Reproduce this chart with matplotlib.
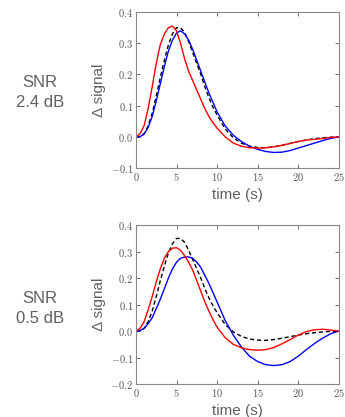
import numpy as np
import matplotlib
matplotlib.use("Agg")
import matplotlib.pyplot as plt
from matplotlib.ticker import FuncFormatter, MultipleLocator

plt.rcParams['mathtext.fontset'] = 'cm'
plt.rcParams['font.family'] = ['Liberation Sans', 'DejaVu Sans']

# time grid (s)
t = np.array([0, 0.5, 1, 1.5, 2, 2.5, 3, 3.5, 4, 4.5, 5, 5.5, 6, 6.5, 7, 7.5,
              8, 8.5, 9, 9.5, 10, 11, 12, 13, 14, 15, 16, 17, 18, 19, 20,
              21, 22, 23, 24, 25])

# true response (dashed)
hrf_true = np.array([0, 0.001, 0.01, 0.035, 0.075, 0.13, 0.19, 0.245, 0.295, 0.33,
                     0.35, 0.35, 0.335, 0.305, 0.27, 0.235, 0.2, 0.16, 0.125, 0.095,
                     0.07, 0.025, -0.003, -0.02, -0.03, -0.034, -0.035, -0.032,
                     -0.027, -0.021, -0.015, -0.01, -0.006, -0.003, -0.001, 0])

# SNR 2.4 dB
red_hi = np.array([0, 0.01, 0.035, 0.09, 0.16, 0.235, 0.295, 0.33, 0.35, 0.355,
                   0.34, 0.3, 0.25, 0.21, 0.18, 0.15, 0.12, 0.09, 0.065, 0.045,
                   0.028, 0.0, -0.02, -0.03, -0.035, -0.036, -0.035, -0.032,
                   -0.027, -0.021, -0.015, -0.01, -0.008, -0.005, -0.002, 0])
blue_hi = np.array([0, 0.001, 0.008, 0.03, 0.065, 0.115, 0.17, 0.225, 0.275, 0.31,
                    0.333, 0.34, 0.33, 0.31, 0.28, 0.245, 0.21, 0.175, 0.14, 0.11,
                    0.08, 0.035, 0.005, -0.015, -0.03, -0.04, -0.047, -0.05,
                    -0.049, -0.044, -0.036, -0.028, -0.02, -0.012, -0.005, 0])

# SNR 0.5 dB
red_lo = np.array([0, 0.01, 0.035, 0.08, 0.13, 0.185, 0.235, 0.275, 0.3, 0.313,
                   0.315, 0.305, 0.285, 0.26, 0.23, 0.19, 0.15, 0.11, 0.075, 0.043,
                   0.015, -0.025, -0.05, -0.063, -0.07, -0.072, -0.07, -0.062,
                   -0.048, -0.032, -0.015, -0.002, 0.005, 0.007, 0.004, 0])
blue_lo = np.array([0, 0.002, 0.01, 0.028, 0.05, 0.085, 0.12, 0.16, 0.2, 0.235,
                    0.26, 0.275, 0.28, 0.28, 0.275, 0.26, 0.24, 0.21, 0.18, 0.145,
                    0.11, 0.04, -0.015, -0.06, -0.095, -0.115, -0.127, -0.13,
                    -0.127, -0.115, -0.095, -0.07, -0.047, -0.027, -0.01, 0])

snr_labels = ['SNR\n2.4 dB', 'SNR\n0.5 dB']
ylims = [(-0.1, 0.4), (-0.2, 0.4)]
panels = [(red_hi, blue_hi), (red_lo, blue_lo)]

fig = plt.figure(figsize=(3.45, 4.17), dpi=100)
ax_pos = [[0.394, 0.597, 0.588, 0.374], [0.394, 0.079, 0.588, 0.381]]
label_y = [0.779, 0.261]

fmt_x = FuncFormatter(lambda v, p: r'$%d$' % round(v))
fmt_y = FuncFormatter(lambda v, p: r'$%.1f$' % (0.0 if abs(v) < 1e-9 else v))

for i in range(2):
    ax = fig.add_axes(ax_pos[i])
    red, blue = panels[i]
    ax.plot(t, hrf_true, '--', c='black', lw=1.0, dashes=(3, 2))
    ax.plot(t, blue, c='blue', lw=1.0)
    ax.plot(t, red, c='red', lw=1.0)
    ax.set_xlim(0, 25)
    ax.set_ylim(*ylims[i])
    ax.xaxis.set_major_locator(MultipleLocator(5))
    ax.yaxis.set_major_locator(MultipleLocator(0.1))
    ax.yaxis.set_major_formatter(fmt_y)
    ax.xaxis.set_major_formatter(fmt_x)
    ax.tick_params(direction='in', top=True, right=True, length=3, width=0.6,
                   labelsize=7.5, colors='#555555', pad=2)
    for s in ax.spines.values():
        s.set_color('#888888')
        s.set_linewidth(0.8)
    ax.set_xlabel('time (s)', fontsize=11, color='#606060', labelpad=4)
    ax.set_ylabel('Δ signal', fontsize=11, color='#606060', labelpad=3)
    fig.text(0.115, label_y[i], snr_labels[i], ha='center', va='center',
             fontsize=12, color='#606060', linespacing=1.4)

fig.savefig('out.png', dpi=100)
